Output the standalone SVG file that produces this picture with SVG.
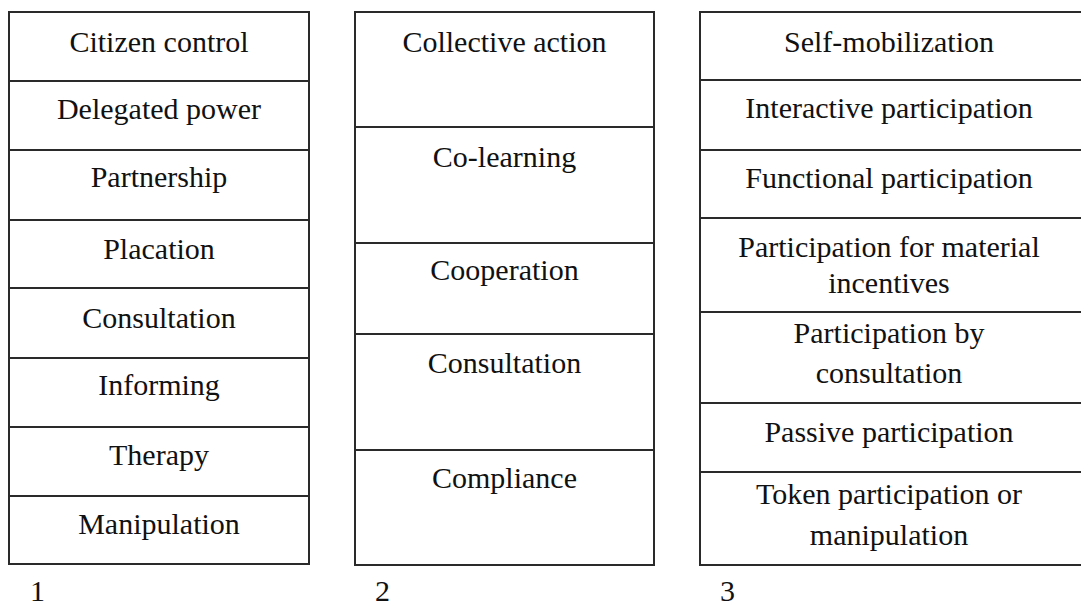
<svg xmlns="http://www.w3.org/2000/svg" width="1081" height="605" viewBox="0 0 1081 605">
<style>
.box{fill:#fff;stroke:#2a2a2a;stroke-width:2}
.ln{stroke:#2a2a2a;stroke-width:2}
text{font-family:"Liberation Serif","Times New Roman",serif;font-size:30px;fill:#111;text-anchor:middle}
.num{text-anchor:start}
</style>
<rect width="1081" height="605" fill="#fff"/>
<g id="col1">
<rect class="box" x="9" y="12" width="300" height="552"/>
<line class="ln" x1="9" y1="81" x2="309" y2="81"/>
<line class="ln" x1="9" y1="150" x2="309" y2="150"/>
<line class="ln" x1="9" y1="220" x2="309" y2="220"/>
<line class="ln" x1="9" y1="288" x2="309" y2="288"/>
<line class="ln" x1="9" y1="358" x2="309" y2="358"/>
<line class="ln" x1="9" y1="427" x2="309" y2="427"/>
<line class="ln" x1="9" y1="496" x2="309" y2="496"/>
<text x="159" y="52">Citizen control</text>
<text x="159" y="119">Delegated power</text>
<text x="159" y="187">Partnership</text>
<text x="159" y="259">Placation</text>
<text x="159" y="328">Consultation</text>
<text x="159" y="395">Informing</text>
<text x="159" y="465">Therapy</text>
<text x="159" y="534">Manipulation</text>
<text class="num" x="30" y="601">1</text>
</g>
<g id="col2">
<rect class="box" x="355" y="12" width="299" height="553"/>
<line class="ln" x1="355" y1="127" x2="654" y2="127"/>
<line class="ln" x1="355" y1="243" x2="654" y2="243"/>
<line class="ln" x1="355" y1="334" x2="654" y2="334"/>
<line class="ln" x1="355" y1="450" x2="654" y2="450"/>
<text x="504.5" y="52">Collective action</text>
<text x="504.5" y="167">Co-learning</text>
<text x="504.5" y="280">Cooperation</text>
<text x="504.5" y="373">Consultation</text>
<text x="504.5" y="488">Compliance</text>
<text class="num" x="375" y="601">2</text>
</g>
<g id="col3">
<rect class="box" x="700" y="12" width="384" height="553"/>
<line class="ln" x1="700" y1="80" x2="1084" y2="80"/>
<line class="ln" x1="700" y1="150" x2="1084" y2="150"/>
<line class="ln" x1="700" y1="218" x2="1084" y2="218"/>
<line class="ln" x1="700" y1="312" x2="1084" y2="312"/>
<line class="ln" x1="700" y1="403" x2="1084" y2="403"/>
<line class="ln" x1="700" y1="472" x2="1084" y2="472"/>
<text x="889" y="52">Self-mobilization</text>
<text x="889" y="118">Interactive participation</text>
<text x="889" y="188">Functional participation</text>
<text x="889" y="257">Participation for material</text>
<text x="889" y="293">incentives</text>
<text x="889" y="343">Participation by</text>
<text x="889" y="383">consultation</text>
<text x="889" y="442">Passive participation</text>
<text x="889" y="504">Token participation or</text>
<text x="889" y="545">manipulation</text>
<text class="num" x="720" y="601">3</text>
</g>
<g id="connectors"></g>
</svg>
